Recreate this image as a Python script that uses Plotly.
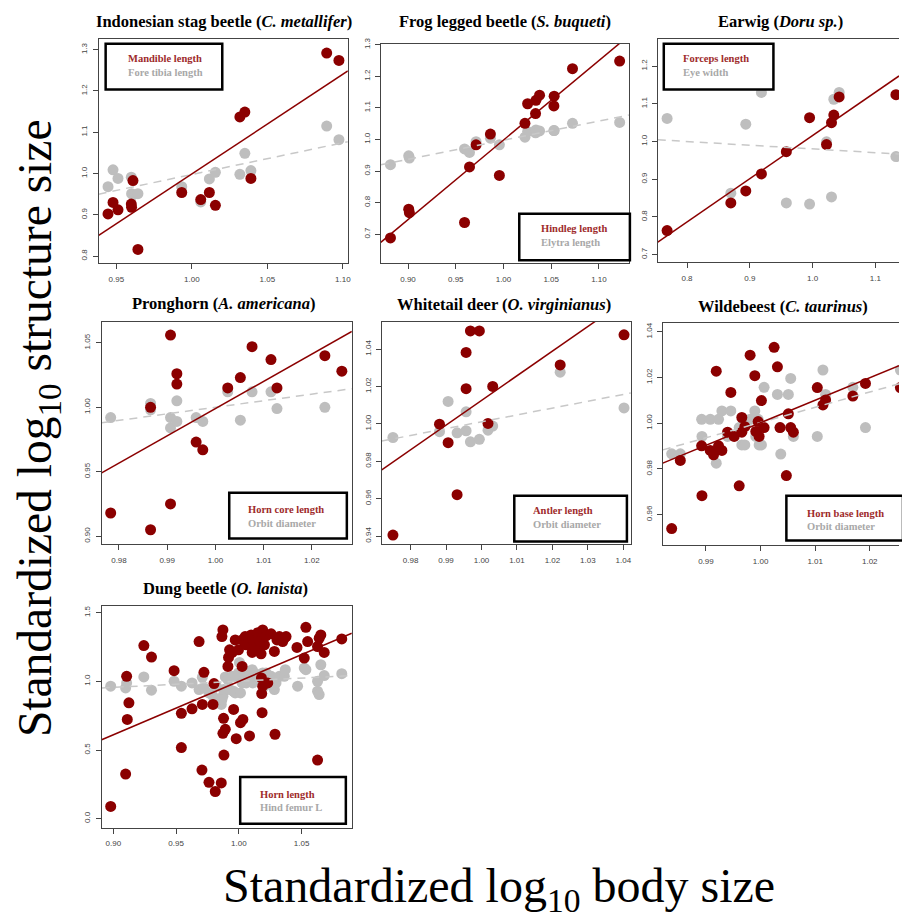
import plotly.graph_objects as go

W, H = 902, 919

# ---------------- data ----------------
# Indonesian stag beetle
stag_body = [0.9445, 0.9478, 0.9511, 0.9610, 0.9599, 0.9601, 0.9643, 0.9933, 1.0059, 1.0116, 1.0156, 1.0318, 1.0351, 1.0391, 1.0893, 1.0974]
stag_mandible = [0.902, 0.930, 0.912, 0.983, 0.926, 0.918, 0.816, 0.954, 0.937, 0.954, 0.923, 1.137, 1.149, 0.988, 1.292, 1.274]
stag_tibia = [0.968, 1.009, 0.988, 0.948, 0.991, 0.951, 0.951, 0.968, 0.931, 0.987, 1.003, 0.998, 1.049, 1.007, 1.115, 1.082]

# Frog legged beetle
frog_body = [0.8816, 0.9007, 0.9014, 0.9592, 0.9644, 0.9713, 0.9863, 0.9957, 1.0225, 1.0253, 1.0336, 1.0340, 1.0378, 1.0531, 1.0528, 1.0723, 1.1217]
frog_hindleg = [0.688, 0.779, 0.768, 0.737, 0.913, 0.983, 1.017, 0.886, 1.051, 1.113, 1.082, 1.124, 1.140, 1.137, 1.106, 1.224, 1.248]
frog_elytra = [0.920, 0.948, 0.941, 0.970, 0.959, 0.993, 1.004, 0.983, 1.007, 1.025, 1.021, 1.030, 1.027, 1.028, 1.028, 1.051, 1.054]

# Earwig
earwig_body = [0.7683, 0.8698, 0.8936, 0.9185, 0.9582, 0.9952, 1.0222, 1.0301, 1.0338, 1.0423, 1.1327]
earwig_forceps = [0.764, 0.837, 0.869, 0.914, 0.973, 1.063, 0.992, 1.050, 1.070, 1.118, 1.124]
earwig_eye = [1.061, 0.863, 1.046, 1.130, 0.837, 0.834, 0.999, 0.853, 1.112, 1.130, 0.960]

# Pronghorn
prong_body = [0.97828, 0.98655, 0.98655, 0.99069, 0.99069, 0.99200, 0.99200, 0.99600, 0.99738, 1.00255, 1.00517, 1.00759, 1.01152, 1.01276, 1.02269, 1.02621]
prong_horn = [0.918, 1.000, 0.905, 1.056, 0.925, 1.026, 1.018, 0.973, 0.967, 1.015, 1.023, 1.047, 1.037, 1.015, 1.040, 1.028]
prong_orbit = [0.992, 1.003, 0.998, 0.992, 0.984, 1.005, 0.989, 0.992, 0.989, 1.012, 0.990, 1.012, 1.012, 0.999, 1.000, None]

# Whitetail deer
deer_body = [0.97503, 0.98816, 0.99059, 0.99312, 0.99566, 0.99566, 0.99688, 0.99940, 1.00184, 1.00316, 1.02219, 1.04019]
deer_antler = [0.9405, 0.9998, 0.9899, 0.9621, 1.0382, 1.0188, 1.0497, 1.0497, 1.0002, 1.0200, 1.0315, 1.0476]
deer_orbit = [0.9927, 0.9958, 1.0120, 0.9952, 1.0064, 0.9963, 0.9904, 0.9917, 0.9966, 0.9988, 1.0276, 1.0085]

# Wildebeest
wild_body = [0.98373, 0.98531, 0.98921, 0.98927, 0.99079, 0.99140, 0.99189, 0.99231, 0.99292, 0.99396, 0.99456, 0.99517,
             0.99609, 0.99657, 0.99657, 0.99712, 0.99809, 0.99895, 0.99913, 0.99956, 0.99974, 1.00016, 1.00065, 1.00248,
             1.00309, 1.00357, 1.00473, 1.00509, 1.00552, 1.00601, 1.01039, 1.01142, 1.01191, 1.01690, 1.01921, 1.02561]
wild_hornbase = [0.9539, 0.9837, 0.9901, 0.9683, 0.9881, 0.9862, 1.0228, 0.9901, 0.9881, 0.9961, 1.0135, 0.9942,
                 0.9726, 1.0025, 0.9961, 0.9985, 1.0298, 1.0208, 0.9964, 1.0007, 0.9942, 1.0099, 0.9981, 1.0332,
                 1.0247, 0.9981, 0.9771, 1.0041, 0.9981, 0.9961, 1.0156, 1.0080, 1.0102, 1.0119, 1.0174, 1.0156]
wild_orbit_body = [0.98373, 0.98531, 0.98921, 0.98927, 0.99079, 0.99189, 0.99231, 0.99292, 0.99396, 0.99456, 0.99609,
                   0.99657, 0.99712, 0.99809, 0.99895, 0.99913, 0.99956, 0.99974, 1.00016, 1.00065, 1.00309, 1.00357,
                   1.00370, 1.00509, 1.00552, 1.00601, 1.01039, 1.01142, 1.01191, 1.01690, 1.01921, 1.02561]
wild_orbit = [0.9866, 0.9866, 1.0017, 0.9942, 1.0017, 0.9825, 1.0017, 1.0054, 0.9942, 1.0054, 0.9981,
              0.9905, 0.9905, 1.0017, 1.0054, 0.9942, 1.0017, 0.9905, 0.9905, 1.0157, 1.0126, 0.9981,
              0.9865, 1.0126, 1.0196, 0.9942, 0.9942, 1.0233, 1.0126, 1.0157, 0.9981, 1.0233]

# Dung beetle
dung_horn_body = [0.8979, 0.9098, 0.9106, 0.9111, 0.9124, 0.9243, 0.9304, 0.9484, 0.9542, 0.9542, 0.9627, 0.9683, 0.9706,
                  0.9709, 0.9722, 0.9762, 0.9794, 0.9802, 0.9812, 0.9860, 0.9865, 0.9873, 0.9873, 0.9878, 0.9881, 0.9892,
                  0.9913, 0.9918, 0.9926, 0.9947, 0.9958, 0.9971, 0.9979, 0.9997, 1.0013, 1.0026, 1.0026, 1.0032, 1.0050,
                  1.0058, 1.0085, 1.0098, 1.0106, 1.0111, 1.0124, 1.0132, 1.0151, 1.0169, 1.0177, 1.0180, 1.0185, 1.0190,
                  1.0190, 1.0204, 1.0217, 1.0230, 1.0257, 1.0283, 1.0288, 1.0304, 1.0323, 1.0349, 1.0362, 1.0376, 1.0463,
                  1.0521, 1.0534, 1.0548, 1.0627, 1.0627, 1.0640, 1.0653, 1.0680, 1.0820, 1.0182]
dung_horn = [0.089, 0.325, 1.037, 0.723, 0.844, 1.261, 1.177, 1.078, 0.767, 0.518, 0.800, 1.290, 0.354,
             0.832, 1.066, 0.265, 0.832, 0.984, 0.198, 0.260, 1.326, 1.375, 0.622, 0.731, 0.463, 0.651,
             1.109, 1.174, 1.230, 1.211, 0.796, 1.302, 0.583, 1.230, 0.699, 1.109, 1.302, 0.723, 1.326,
             1.266, 0.603, 1.338, 1.211, 1.302, 1.278, 1.242, 1.355, 1.290, 1.201, 1.025, 0.772, 0.965,
             1.375, 1.266, 1.331, 0.989, 1.346, 1.218, 0.615, 1.302, 1.326, 1.290, 1.314, 1.326, 1.247,
             1.170, 1.394, 1.290, 0.427, 1.254, 1.314, 1.338, 1.211, 1.309, 0.911]
dung_femur_body = [0.8979, 0.9098, 0.9106, 0.9243, 0.9304, 0.9484, 0.9542, 0.9627, 0.9683, 0.9709, 0.9722, 0.9762,
                   0.9794, 0.9802, 0.9820, 0.9860, 0.9865, 0.9873, 0.9878, 0.9892, 0.9913, 0.9926, 0.9947, 0.9958,
                   0.9971, 0.9979, 0.9997, 1.0005, 1.0013, 1.0026, 1.0032, 1.0050, 1.0058, 1.0085, 1.0106, 1.0111,
                   1.0124, 1.0151, 1.0177, 1.0190, 1.0204, 1.0217, 1.0243, 1.0257, 1.0283, 1.0296, 1.0323, 1.0362,
                   1.0370, 1.0468, 1.0521, 1.0534, 1.0627, 1.0627, 1.0640, 1.0653, 1.0680, 1.0820]
dung_femur = [0.965, 0.952, 0.989, 1.032, 0.936, 1.001, 0.965, 0.989, 0.940, 1.030, 0.952, 0.916,
              0.892, 0.844, 0.965, 0.832, 0.868, 0.892, 0.940, 1.032, 1.013, 0.940, 1.037, 0.928,
              0.916, 1.037, 1.061, 1.138, 0.916, 0.989, 1.085, 1.037, 0.989, 1.061, 1.085, 0.989,
              1.061, 1.037, 1.013, 1.061, 0.965, 1.061, 1.037, 1.037, 0.940, 0.989, 1.037, 1.037,
              1.085, 0.965, 1.097, 1.085, 1.001, 0.928, 0.904, 1.121, 1.042, 1.056]

# fitted lines: slope and fitted value at body size 1.0 (trait, reference structure)
fit_slope_trait = [2.416, 2.517, 1.146, 2.115, 1.319, 0.987, 3.894]
fit_at1_trait = [0.999, 0.998, 1.016, 0.999, 1.0125, 1.0002, 1.000]
fit_slope_ref = [0.770, 0.6045, -0.0984, 0.509, 0.366, 0.668, 0.4516]
fit_at1_ref = [0.9975, 0.9977, 0.9803, 1.000, 1.0011, 1.0003, 1.0014]

titles = [
    "Indonesian stag beetle (<i>C. metallifer</i>)",
    "Frog legged beetle (<i>S. buqueti</i>)",
    "Earwig (<i>Doru sp.</i>)",
    "Pronghorn (<i>A. americana</i>)",
    "Whitetail deer (<i>O. virginianus</i>)",
    "Wildebeest (<i>C. taurinus</i>)",
    "Dung beetle (<i>O. lanista</i>)",
]
trait_names = ["Mandible length", "Hindleg length", "Forceps length", "Horn core length",
               "Antler length", "Horn base length", "Horn length"]
ref_names = ["Fore tibia length", "Elytra length", "Eye width", "Orbit diameter",
             "Orbit diameter", "Orbit diameter", "Hind femur L"]

# ---------------- layout geometry ----------------
RED = "#8B0000"
GREY = "#BEBEBE"
SERIF = "Liberation Serif, Times New Roman, serif"

panels = [
    dict(bx=stag_body, by=stag_mandible, gx=stag_body, gy=stag_tibia,
         box=(99, 33, 349, 259), xr=[0.9383, 1.1033], yr=[0.7824, 1.3265],
         xd=0.05, xf=".2f", yd=0.1, yf=".1f", clip=False,
         leg=(106, 38, 223, 84), legx=126, legy=(53, 67), title=(224.7, 16)),
    dict(bx=frog_body, by=frog_hindleg, gx=frog_body, gy=frog_elytra,
         box=(382, 38, 631, 259), xr=[0.8714, 1.1314], yr=[0.6078, 1.303],
         xd=0.05, xf=".2f", yd=0.1, yf=".1f", clip=False,
         leg=(521, 209, 632, 256), legx=541, legy=(224, 238), title=(506.7, 16)),
    dict(bx=earwig_body, by=earwig_forceps, gx=earwig_body, gy=earwig_eye,
         box=(660, 33, 902, 258), xr=[0.7535, 1.1376], yr=[0.6797, 1.2723],
         xd=0.1, xf=".1f", yd=0.1, yf=".1f", clip=True,
         leg=(666, 38, 776, 84), legx=683, legy=(53, 67), title=(783.3, 16)),
    dict(bx=prong_body, by=prong_horn, gx=prong_body, gy=prong_orbit,
         box=(102, 318, 353, 542), xr=[0.97641, 1.02828], yr=[0.8936, 1.0662],
         xd=0.01, xf=".2f", yd=0.05, yf=".2f", clip=False,
         leg=(230, 490, 348, 536), legx=247, legy=(507, 521), title=(224.7, 299)),
    dict(bx=deer_body, by=deer_antler, gx=deer_body, gy=deer_orbit,
         box=(383, 318, 633, 542), xr=[0.97187, 1.04213], yr=[0.9355, 1.0545],
         xd=0.01, xf=".2f", yd=0.02, yf=".2f", clip=False,
         leg=(516, 493, 629, 539), legx=533, legy=(508, 522), title=(505.8, 300)),
    dict(bx=wild_body, by=wild_hornbase, gx=wild_orbit_body, gy=wild_orbit,
         box=(665, 319, 902, 543), xr=[0.9821, 1.02535], yr=[0.9465, 1.0439],
         xd=0.01, xf=".2f", yd=0.02, yf=".2f", clip=True,
         leg=(789, 493, 906, 538), legx=808, legy=(511, 524), title=(785.8, 302)),
    dict(bx=dung_horn_body, by=dung_horn, gx=dung_femur_body, gy=dung_femur,
         box=(102, 604, 353, 827), xr=[0.8907, 1.09], yr=[-0.065, 1.5485],
         xd=0.05, xf=".2f", yd=0.5, yf=".1f", clip=False,
         leg=(241, 776, 347, 823), legx=259, legy=(794, 807), title=(225.8, 586)),
]


def px(x):
    return x / W


def py(y):
    return 1 - y / H


fig = go.Figure()
layout = dict(width=W, height=H, margin=dict(l=0, r=0, t=0, b=0),
              paper_bgcolor="white", plot_bgcolor="white", showlegend=False)
shapes, annotations = [], []

tickfont = dict(family="Liberation Sans, Arial, sans-serif", size=8, color="#444")

for i, p in enumerate(panels):
    n = i + 1
    xa, ya = f"x{n}", f"y{n}"
    l, t, r, b = p["box"]
    layout[f"xaxis{n}"] = dict(
        domain=[px(l), px(r)], range=p["xr"], anchor=ya, showgrid=False, zeroline=False,
        showline=True, linecolor="#444", linewidth=1, mirror=True,
        ticks="outside", ticklen=5, tickcolor="#444", tickwidth=1,
        dtick=p["xd"], tick0=0, tickformat=p["xf"], tickfont=tickfont, ticklabelstandoff=3)
    layout[f"yaxis{n}"] = dict(
        domain=[py(b), py(t)], range=p["yr"], anchor=xa, showgrid=False, zeroline=False,
        showline=True, linecolor="#444", linewidth=1, mirror=not p["clip"],
        ticks="outside", ticklen=5, tickcolor="#444", tickwidth=1,
        dtick=p["yd"], tick0=0, tickformat=p["yf"], tickfont=tickfont, tickangle=-90,
        ticklabelstandoff=2)

    fig.add_trace(go.Scatter(x=p["gx"], y=p["gy"], mode="markers", xaxis=xa, yaxis=ya,
                             marker=dict(color=GREY, size=11, line=dict(width=0))))
    fig.add_trace(go.Scatter(x=p["bx"], y=p["by"], mode="markers", xaxis=xa, yaxis=ya,
                             marker=dict(color=RED, size=11, line=dict(width=0))))
    x0, x1 = p["xr"]
    fig.add_trace(go.Scatter(
        x=[x0, x1],
        y=[fit_at1_ref[i] + fit_slope_ref[i] * (x0 - 1), fit_at1_ref[i] + fit_slope_ref[i] * (x1 - 1)],
        mode="lines", xaxis=xa, yaxis=ya, line=dict(color="#C8C8C8", width=1.5, dash="8px,6px")))
    fig.add_trace(go.Scatter(
        x=[x0, x1],
        y=[fit_at1_trait[i] + fit_slope_trait[i] * (x0 - 1), fit_at1_trait[i] + fit_slope_trait[i] * (x1 - 1)],
        mode="lines", xaxis=xa, yaxis=ya, line=dict(color=RED, width=1.5)))

    # legend box
    ll, lt, lr, lb = p["leg"]
    shapes.append(dict(type="rect", xref="paper", yref="paper", x0=px(ll), x1=px(lr),
                       y0=py(lb), y1=py(lt), line=dict(color="black", width=2.5),
                       fillcolor="white", layer="above"))
    annotations.append(dict(text=f"<b>{trait_names[i]}</b>", x=px(p["legx"]), y=py(p["legy"][0]),
                            xref="paper", yref="paper", xanchor="left", yanchor="middle", showarrow=False,
                            font=dict(family=SERIF, size=10.5, color="#9E2B2B")))
    annotations.append(dict(text=f"<b>{ref_names[i]}</b>", x=px(p["legx"]), y=py(p["legy"][1]),
                            xref="paper", yref="paper", xanchor="left", yanchor="middle", showarrow=False,
                            font=dict(family=SERIF, size=10.5, color="#A8A8A8")))
    # title
    tx, ty = p["title"]
    annotations.append(dict(text=f"<b>{titles[i]}</b>", x=px(tx), y=py(ty), xref="paper", yref="paper",
                            xanchor="center", yanchor="middle", showarrow=False,
                            font=dict(family=SERIF, size=16.5, color="black")))

# global axis titles
annotations.append(dict(text="Standardized log<sub>10</sub> body size", x=px(501), y=py(889),
                        xref="paper", yref="paper", xanchor="center", yanchor="middle", showarrow=False,
                        font=dict(family=SERIF, size=48, color="black")))
annotations.append(dict(text="Standardized log<sub>10</sub> structure size", x=px(38), y=py(425),
                        xref="paper", yref="paper", xanchor="center", yanchor="middle", showarrow=False,
                        textangle=-90,
                        font=dict(family=SERIF, size=47.5, color="black")))

layout["shapes"] = shapes
layout["annotations"] = annotations
fig.update_layout(**layout)
fig.write_html("out.html", config={"displayModeBar": False},
               post_script="document.body.style.margin='0';document.body.style.overflow='hidden';")
